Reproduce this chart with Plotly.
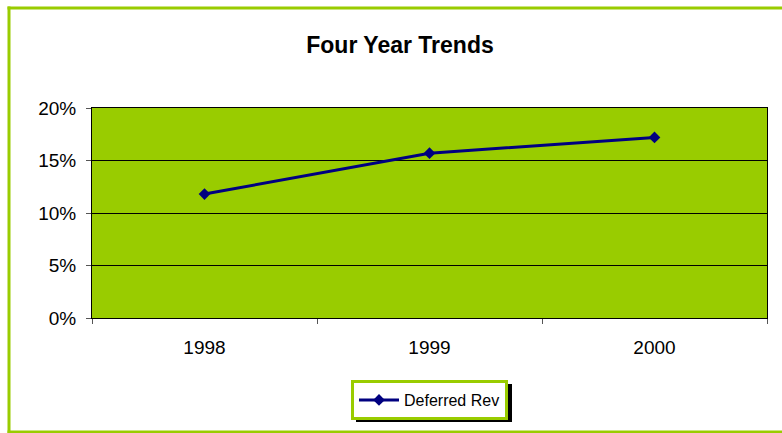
import plotly.graph_objects as go

years = ["1998", "1999", "2000"]
deferred_rev = [11.8, 15.7, 17.2]
series_name = "Deferred Rev"
y_ticks = [0, 5, 10, 15, 20]
y_tick_labels = ["0%", "5%", "10%", "15%", "20%"]

GREEN = "#99CC00"
NAVY = "#000080"
FONT = "Liberation Sans, Arial, sans-serif"

W, H = 782, 433
L, R, T, B = 92, 15, 108, 115
pw, ph = W - L - R, H - T - B

def px_x(x):
    return (x - L) / pw

def px_y(y):
    return (H - B - y) / ph

fig = go.Figure()
fig.add_trace(go.Scatter(
    x=years, y=deferred_rev, name=series_name, mode="lines+markers",
    line=dict(color=NAVY, width=3),
    marker=dict(symbol="diamond", size=9, color=NAVY),
))

frame = dict(color=GREEN, width=3)
shapes = [
    # outer chart frame (left, top, bottom edges; right edge lies outside the picture)
    dict(type="line", xref="paper", yref="paper",
         x0=px_x(9), x1=px_x(9), y0=px_y(433.5), y1=px_y(6.5), line=frame, layer="below"),
    dict(type="line", xref="paper", yref="paper",
         x0=px_x(7.5), x1=px_x(800), y0=px_y(8), y1=px_y(8), line=frame, layer="below"),
    dict(type="line", xref="paper", yref="paper",
         x0=px_x(7.5), x1=px_x(800), y0=px_y(432), y1=px_y(432), line=frame, layer="below"),
    # legend shadow
    dict(type="rect", xref="paper", yref="paper",
         x0=px_x(356), x1=px_x(512), y0=px_y(422), y1=px_y(384),
         line=dict(width=0), fillcolor="black", layer="above"),
]

fig.update_layout(
    width=W, height=H,
    margin=dict(l=L, r=R, t=T, b=B),
    paper_bgcolor="white", plot_bgcolor=GREEN,
    font=dict(family=FONT, color="black", size=19),
    title=dict(text="<b>Four Year Trends</b>", x=400 / W, xanchor="center",
               y=1 - 45 / H, yanchor="middle",
               font=dict(family=FONT, size=23, color="black")),
    showlegend=True,
    legend=dict(orientation="h", x=0.5, xanchor="center", y=px_y(380), yanchor="top",
                bgcolor="white", bordercolor=GREEN, borderwidth=3,
                font=dict(family=FONT, size=16, color="black"),
                itemwidth=40),
    shapes=shapes,
    xaxis=dict(type="category", range=[-0.5, 2.5], tickson="boundaries",
               ticks="outside", ticklen=5, tickcolor="#555555",
               showline=True, linecolor="black", linewidth=1, mirror=True,
               showgrid=False, zeroline=False, ticklabelstandoff=12,
               tickfont=dict(size=19)),
    yaxis=dict(range=[0, 20], tickvals=y_ticks, ticktext=y_tick_labels,
               ticks="outside", ticklen=5, tickcolor="#555555",
               showline=True, linecolor="black", linewidth=1, mirror=True,
               showgrid=True, gridcolor="black", gridwidth=1, zeroline=False,
               ticklabelstandoff=6, tickfont=dict(size=19)),
)

fig.write_html("out.html")
